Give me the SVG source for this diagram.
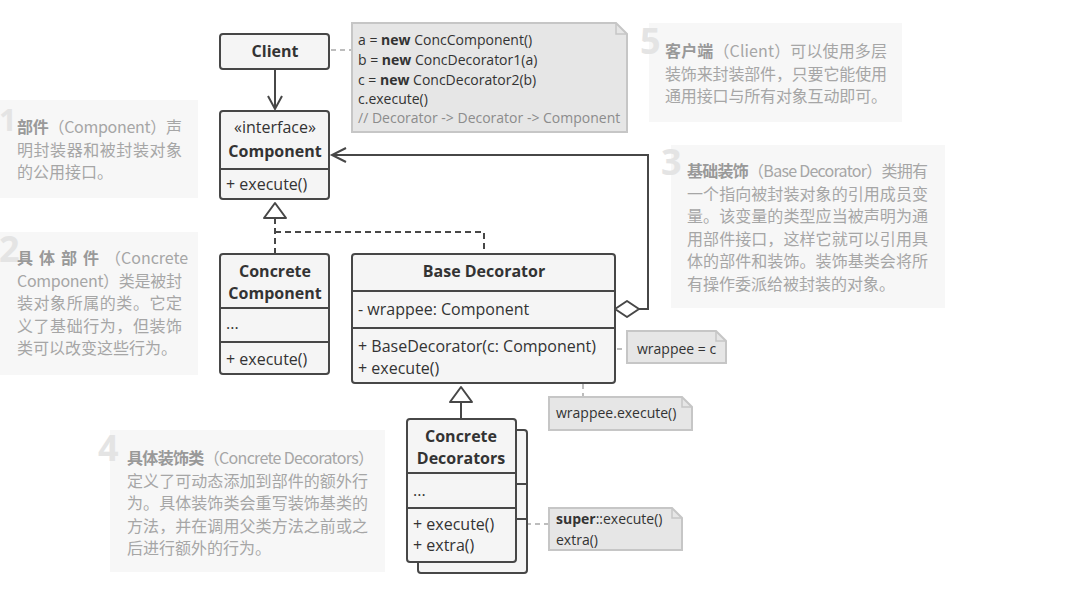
<svg xmlns="http://www.w3.org/2000/svg" width="1077" height="589" viewBox="0 0 1077 589">
<style>
.bg{fill:#f7f7f7}
.num{font-family:"Open Sans","Liberation Sans",sans-serif;font-weight:700;font-size:36px;fill:#e4e4e4}
.d{font-family:"Noto Sans CJK SC","Noto Sans",sans-serif;font-size:16px;fill:#a6a6a6}
.d .b{font-weight:700;fill:#999}
.box{fill:#f5f5f5;stroke:#474747;stroke-width:2}
.ln{stroke:#474747;stroke-width:2;fill:none}
.t{font-family:"Open Sans","Liberation Sans",sans-serif;font-size:16px;fill:#333}
.bold{font-weight:700}
.c{text-anchor:middle}
.note{fill:#e6e6e6;stroke:#c6c6c6;stroke-width:2}
.nt{font-family:"Open Sans","Liberation Sans",sans-serif;font-size:14px;fill:#333}
.cm{fill:#8c8c8c}
.dash{stroke:#bdbdbd;stroke-width:2;stroke-dasharray:5 4;fill:none}
.gdash{stroke:#474747;stroke-width:2;stroke-dasharray:6 4;fill:none}
.dot{fill:#f5f5f5;stroke:#aaa;stroke-width:1.5}
</style>

<!-- description boxes -->
<g id="desc1">
<rect class="bg" x="0" y="100" width="198" height="98"/>
<text class="num" x="-1" y="131" style="font-size:31px">1</text>
<text class="d" x="17" y="133" textLength="165" lengthAdjust="spacing"><tspan class="b">部件</tspan>（Component）声</text>
<text class="d" x="17" y="155.5" textLength="165" lengthAdjust="spacing">明封装器和被封装对象</text>
<text class="d" x="17" y="178">的公用接口。</text>
</g>
<g id="desc2">
<rect class="bg" x="0" y="232" width="198" height="143"/>
<text class="num" x="-1" y="262">2</text>
<text class="d" x="17" y="264"><tspan class="b" letter-spacing="6">具体部件</tspan>（Concrete</text>
<text class="d" x="17" y="286.5" textLength="165" lengthAdjust="spacing">Component）类是被封</text>
<text class="d" x="17" y="309" textLength="165" lengthAdjust="spacing">装对象所属的类。它定</text>
<text class="d" x="17" y="331.5" textLength="165" lengthAdjust="spacing">义了基础行为，但装饰</text>
<text class="d" x="17" y="354">类可以改变这些行为。</text>
</g>
<g id="desc5">
<rect class="bg" x="649" y="23" width="253" height="99"/>
<text class="num" x="640" y="54">5</text>
<text class="d" x="665" y="57" textLength="222" lengthAdjust="spacing"><tspan class="b">客户端</tspan>（Client）可以使用多层</text>
<text class="d" x="665" y="79.5" textLength="222" lengthAdjust="spacing">装饰来封装部件，只要它能使用</text>
<text class="d" x="665" y="102" textLength="222" lengthAdjust="spacing">通用接口与所有对象互动即可。</text>
</g>
<g id="desc3">
<rect class="bg" x="671" y="145" width="274" height="163"/>
<text class="num" x="661" y="175">3</text>
<text class="d" x="687" y="177" textLength="241" lengthAdjust="spacing"><tspan class="b">基础装饰</tspan>（Base Decorator）类拥有</text>
<text class="d" x="687" y="199.5" textLength="241" lengthAdjust="spacing">一个指向被封装对象的引用成员变</text>
<text class="d" x="687" y="222" textLength="241" lengthAdjust="spacing">量。该变量的类型应当被声明为通</text>
<text class="d" x="687" y="244.5" textLength="241" lengthAdjust="spacing">用部件接口，这样它就可以引用具</text>
<text class="d" x="687" y="267" textLength="241" lengthAdjust="spacing">体的部件和装饰。装饰基类会将所</text>
<text class="d" x="687" y="289.5">有操作委派给被封装的对象。</text>
</g>
<g id="desc4">
<rect class="bg" x="110" y="430" width="275" height="142"/>
<text class="num" x="98" y="461">4</text>
<text class="d" x="127" y="464" textLength="247" lengthAdjust="spacing"><tspan class="b">具体装饰类</tspan>（Concrete Decorators）</text>
<text class="d" x="127" y="486.5" textLength="241" lengthAdjust="spacing">定义了可动态添加到部件的额外行</text>
<text class="d" x="127" y="509" textLength="241" lengthAdjust="spacing">为。具体装饰类会重写装饰基类的</text>
<text class="d" x="127" y="531.5" textLength="241" lengthAdjust="spacing">方法，并在调用父类方法之前或之</text>
<text class="d" x="127" y="554">后进行额外的行为。</text>
</g>

<!-- connectors -->
<g id="connectors">
<line class="dash" x1="331" y1="50" x2="351" y2="50"/>
<path class="ln" d="M275 69 V109 M268 96 L275 109 L282 96"/>
<path class="gdash" d="M275 218 V254 M275 232 H484 V254"/>
<polygon points="275,203 264,218 286,218" fill="#fff" stroke="#474747" stroke-width="2" stroke-linejoin="round"/>
<path class="ln" d="M639 309 H648 V155 H332 M346 148 L332 155 L346 162"/>
<polygon points="615,309 627,301 639,309 627,317" fill="#fff" stroke="#474747" stroke-width="2" stroke-linejoin="round"/>
<path class="ln" d="M461 402 V419"/>
<polygon points="461,387 450,402 472,402" fill="#fff" stroke="#474747" stroke-width="2" stroke-linejoin="round"/>
<line class="dash" x1="608" y1="349" x2="627" y2="349"/>
<path class="dash" d="M455 368 H583 V397"/>
<line class="dash" x1="508" y1="524" x2="549" y2="524"/>
<circle class="dot" cx="603" cy="349" r="4"/>
<circle class="dot" cx="450" cy="368" r="4"/>
<circle class="dot" cx="503" cy="524" r="4"/>
</g>

<!-- nodes -->
<g id="client">
<rect class="box" x="220" y="34" width="109" height="35" rx="3"/>
<text class="t bold c" x="275" y="56.5">Client</text>
</g>
<g id="code-note">
<path class="note" d="M352 23 H616 L627 34 V132 H352 Z"/>
<path d="M616 23 V34 H627" fill="none" stroke="#c6c6c6" stroke-width="1.5"/>
<text class="nt" x="358" y="45">a = <tspan class="bold">new</tspan> ConcComponent()</text>
<text class="nt" x="358" y="64.5">b = <tspan class="bold">new</tspan> ConcDecorator1(a)</text>
<text class="nt" x="358" y="84.5">c = <tspan class="bold">new</tspan> ConcDecorator2(b)</text>
<text class="nt" x="358" y="104">c.execute()</text>
<text class="nt cm" x="358" y="123">// Decorator -&gt; Decorator -&gt; Component</text>
</g>
<g id="component">
<rect class="box" x="220" y="111" width="109" height="88" rx="3"/>
<line class="ln" x1="220" y1="169" x2="329" y2="169"/>
<text class="t c" x="275" y="133">«interface»</text>
<text class="t bold c" x="275" y="156.5">Component</text>
<text class="t" x="226" y="189.5">+ execute()</text>
</g>
<g id="concrete-component">
<rect class="box" x="220" y="254" width="109" height="120" rx="3"/>
<line class="ln" x1="220" y1="308" x2="329" y2="308"/>
<line class="ln" x1="220" y1="342" x2="329" y2="342"/>
<text class="t bold c" x="275" y="276.5">Concrete</text>
<text class="t bold c" x="275" y="298.5">Component</text>
<text class="t" x="226" y="329">...</text>
<text class="t" x="226" y="364.5">+ execute()</text>
</g>
<g id="base-decorator">
<rect class="box" x="352" y="254" width="263" height="129" rx="3"/>
<line class="ln" x1="352" y1="291" x2="615" y2="291"/>
<line class="ln" x1="352" y1="328" x2="615" y2="328"/>
<text class="t bold c" x="484" y="276.5">Base Decorator</text>
<text class="t" x="358" y="314.5">- wrappee: Component</text>
<text class="t" x="358" y="351.5">+ BaseDecorator(c: Component)</text>
<text class="t" x="358" y="373.5">+ execute()</text>
</g>
<g id="note-wrappee">
<path class="note" d="M627 331 H716 L726 341 V363 H627 Z"/>
<path d="M716 331 V341 H726" fill="none" stroke="#c6c6c6" stroke-width="1.5"/>
<text class="nt" x="637" y="354">wrappee = c</text>
</g>
<g id="note-execute">
<path class="note" d="M549 397 H682 L692 407 V430 H549 Z"/>
<path d="M682 397 V407 H692" fill="none" stroke="#c6c6c6" stroke-width="1.5"/>
<text class="nt" x="556" y="418">wrappee.execute()</text>
</g>
<g id="concrete-decorators">
<rect class="box" x="418" y="430" width="109" height="143" rx="3"/>
<line class="ln" x1="418" y1="484" x2="527" y2="484"/>
<line class="ln" x1="418" y1="519" x2="527" y2="519"/>
<rect class="box" x="407" y="419" width="109" height="143" rx="3"/>
<line class="ln" x1="407" y1="473" x2="516" y2="473"/>
<line class="ln" x1="407" y1="508" x2="516" y2="508"/>
<text class="t bold c" x="461" y="442">Concrete</text>
<text class="t bold c" x="461" y="463.5">Decorators</text>
<text class="t" x="413" y="496">...</text>
<text class="t" x="413" y="529.5">+ execute()</text>
<text class="t" x="413" y="550.5">+ extra()</text>
</g>
<g id="note-super">
<path class="note" d="M549 508 H672 L682 518 V550 H549 Z"/>
<path d="M672 508 V518 H682" fill="none" stroke="#c6c6c6" stroke-width="1.5"/>
<text class="nt" x="556" y="524"><tspan class="bold">super</tspan>::execute()</text>
<text class="nt" x="556" y="545">extra()</text>
</g>
</svg>
